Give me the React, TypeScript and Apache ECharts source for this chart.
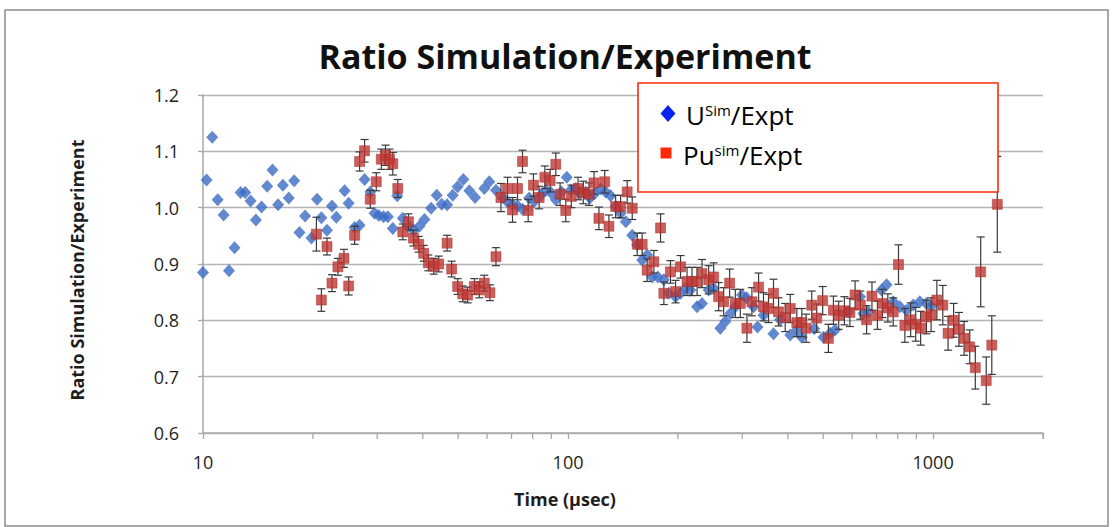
import React, { useEffect, useRef } from "react";
import * as echarts from "echarts";

const FONT = "'Open Sans', sans-serif";

// U simulation / experiment ratio (time in µs, ratio)
const uTime = [
  10.0, 10.23, 10.6, 10.97, 11.39, 11.78, 12.2, 12.68, 13.05, 13.5,
  13.96, 14.47, 14.99, 15.5, 16.06, 16.55, 17.18, 17.77, 18.38, 19.04,
  19.82, 20.53, 21.1, 21.86, 22.56, 23.19, 24.43, 25.06, 26.02, 26.85,
  27.71, 28.72, 29.51, 30.32, 31.23, 32.09, 33.11, 34.04, 35.26, 36.54,
  37.78, 39.16, 40.42, 42.16, 43.67, 45.07, 46.63, 48.3, 49.84, 51.66,
  53.65, 55.61, 58.95, 60.84, 63.46, 66.15, 68.27, 70.45, 72.71, 75.03,
  78.26, 80.76, 84.24, 86.93, 89.7, 92.56, 95.87, 99.2, 101.7, 105,
  107.9, 111.8, 114.8, 118.3, 122.8, 126.8, 130.8, 135, 139.3, 144,
  149.9, 154.7, 159.6, 164.7, 170, 176.2, 183, 188.8, 197, 203.3,
  209.8, 216.4, 225.6, 232.8, 242.8, 250.5, 261.3, 269.7, 278.3, 287.2,
  299.5, 308.3, 322.3, 330.4, 343.1, 365.4, 381.1, 406.1, 423.3, 436.8,
  472.5, 500.6, 522.2, 538.8, 586.1, 630.6, 643.8, 664.4, 722.4, 745.5,
  777.6, 810.9, 845.3, 881.8, 919.7, 958.8, 989.5,
];
const uRatio = [
  0.885, 1.049, 1.125, 1.014, 0.987, 0.888, 0.929, 1.027, 1.027, 1.012,
  0.978, 1.001, 1.038, 1.067, 1.005, 1.04, 1.017, 1.048, 0.956, 0.985,
  0.946, 1.015, 0.982, 0.96, 1.003, 0.983, 1.03, 1.008, 0.965, 0.969,
  1.05, 1.028, 0.99, 0.986, 0.984, 0.984, 0.963, 1.021, 0.981, 0.967,
  0.96, 0.967, 0.979, 0.999, 1.022, 1.006, 1.005, 1.022, 1.037, 1.05,
  1.03, 1.018, 1.034, 1.046, 1.031, 1.018, 1.01, 1.005, 1.003, 0.997,
  1.017, 1.011, 1.022, 1.031, 1.027, 1.014, 1.028, 1.054, 1.031, 1.034,
  1.025, 1.028, 1.017, 1.025, 1.033, 1.028, 1.021, 1.002, 0.99, 0.975,
  0.951, 0.934, 0.907, 0.916, 0.877, 0.877, 0.872, 0.848, 0.842, 0.848,
  0.857, 0.854, 0.824, 0.83, 0.854, 0.857, 0.786, 0.798, 0.812, 0.824,
  0.845, 0.84, 0.824, 0.788, 0.809, 0.776, 0.801, 0.774, 0.783, 0.77,
  0.785, 0.77, 0.777, 0.783, 0.815, 0.842, 0.812, 0.815, 0.854, 0.863,
  0.833, 0.824, 0.818, 0.827, 0.833, 0.83, 0.825,
];

// Pu simulation / experiment ratio with error bars
const puTime = [
  20.45, 21.1, 21.86, 22.56, 23.42, 24.33, 25.06, 26.02, 26.85, 27.71,
  28.72, 29.83, 30.79, 31.62, 32.43, 33.11, 34.17, 35.26, 36.54, 37.71,
  38.99, 40.23, 41.44, 42.85, 44.22, 46.63, 47.98, 49.84, 51.44, 53.08,
  55.37, 57.13, 58.95, 61.1, 63.46, 65.48, 68.27, 70.45, 72.71, 75.03,
  77.76, 80.38, 83.33, 86.38, 89.3, 92.56, 95.08, 98.56, 102.1, 106.5,
  110.1, 114.1, 117.8, 121.5, 126, 129.4, 135, 139.3, 145.2, 149.9,
  154.7, 159.6, 164.7, 171.8, 179.2, 183, 190.8, 197, 203.3, 211.8,
  218.6, 225.6, 232.8, 242.8, 250.5, 258.5, 266.8, 277.1, 287.2, 296.4,
  309, 318.9, 332.6, 343.1, 354.1, 365.4, 377.2, 393.4, 406.1, 423.3,
  436.8, 448.9, 465.1, 479.9, 498.3, 516.6, 533.2, 551.3, 571.4, 591.6,
  611.3, 631.9, 657.3, 680, 703.9, 726.4, 751.6, 777.6, 803.9, 837,
  868, 896, 924.5, 958.8, 987.4, 1024, 1063, 1099, 1138, 1177,
  1216, 1260, 1305, 1350, 1398, 1448, 1499,
];
const puRatio = [
  0.953, 0.836, 0.931, 0.866, 0.895, 0.91, 0.861, 0.951, 1.082, 1.101,
  1.015, 1.046, 1.086, 1.093, 1.086, 1.078, 1.034, 0.957, 0.975, 0.946,
  0.935, 0.919, 0.902, 0.896, 0.9, 0.937, 0.891, 0.86, 0.847, 0.845,
  0.86, 0.854, 0.866, 0.849, 0.913, 1.018, 1.034, 0.996, 1.034, 1.082,
  0.995, 1.04, 1.018, 1.054, 1.048, 1.077, 1.024, 0.995, 1.02, 1.034,
  1.027, 1.024, 1.044, 0.981, 1.046, 0.967, 1.002, 1.002, 1.028, 0.999,
  0.935, 0.935, 0.889, 0.904, 0.964, 0.848, 0.886, 0.851, 0.895, 0.869,
  0.869, 0.869, 0.883, 0.872, 0.877, 0.842, 0.833, 0.866, 0.83, 0.83,
  0.786, 0.833, 0.859, 0.824, 0.821, 0.848, 0.815, 0.805, 0.821, 0.796,
  0.796, 0.786, 0.827, 0.804, 0.835, 0.768, 0.818, 0.809, 0.817, 0.814,
  0.845, 0.827, 0.801, 0.843, 0.809, 0.83, 0.822, 0.815, 0.899, 0.791,
  0.801, 0.793, 0.786, 0.806, 0.81, 0.836, 0.827, 0.777, 0.8, 0.784,
  0.768, 0.753, 0.716, 0.886, 0.693, 0.756, 1.006,
];
const puErr = [
  0.03, 0.02, 0.015, 0.015, 0.015, 0.016, 0.016, 0.016, 0.017, 0.02,
  0.016, 0.016, 0.018, 0.018, 0.018, 0.02, 0.016, 0.014, 0.014, 0.014,
  0.014, 0.014, 0.014, 0.014, 0.014, 0.014, 0.014, 0.014, 0.014, 0.014,
  0.014, 0.014, 0.014, 0.014, 0.016, 0.025, 0.02, 0.022, 0.02, 0.02,
  0.02, 0.02, 0.02, 0.02, 0.02, 0.02, 0.02, 0.02, 0.02, 0.02,
  0.02, 0.02, 0.02, 0.02, 0.02, 0.02, 0.02, 0.02, 0.02, 0.02,
  0.02, 0.02, 0.02, 0.02, 0.025, 0.02, 0.02, 0.02, 0.02, 0.025,
  0.025, 0.025, 0.025, 0.025, 0.025, 0.025, 0.025, 0.025, 0.025, 0.025,
  0.025, 0.025, 0.025, 0.025, 0.025, 0.025, 0.025, 0.025, 0.025, 0.025,
  0.025, 0.025, 0.025, 0.025, 0.025, 0.025, 0.025, 0.025, 0.025, 0.025,
  0.025, 0.025, 0.025, 0.025, 0.025, 0.025, 0.025, 0.025, 0.035, 0.03,
  0.03, 0.03, 0.03, 0.03, 0.03, 0.035, 0.035, 0.03, 0.03, 0.03,
  0.03, 0.03, 0.038, 0.062, 0.042, 0.052, 0.085,
];

const majorTimeLabels = [10, 100, 1000];
const minorTickTimes = [20, 30, 40, 50, 60, 70, 80, 90, 200, 300, 400, 500, 600, 700, 800, 900, 2000];

const AXIS_GRAY = "#a8a8a8";
const TEXT = "#1e1e1e";

export default function App() {
  const ref = useRef<HTMLDivElement>(null);

  useEffect(() => {
    if (!ref.current) return;
    const chart = echarts.init(ref.current, null, { renderer: "svg" });

    const uData = uTime.map((t, i) => [t, uRatio[i]]);
    const puData = puTime.map((t, i) => [t, puRatio[i]]);
    const errData = puTime.map((t, i) => [t, puRatio[i] - puErr[i], puRatio[i] + puErr[i]]);
    const minorData = minorTickTimes.map((t) => [t, 0.6]);

    const option: any = {
      animation: false,
      backgroundColor: "#fff",
      textStyle: { fontFamily: FONT },
      grid: { left: 203, right: 69, top: 95, bottom: 94, containLabel: false, outerBoundsMode: "none" },
      xAxis: {
        type: "log",
        logBase: 10,
        min: 10,
        max: 2000,
        axisLine: { show: true, onZero: false, lineStyle: { color: AXIS_GRAY, width: 1.5 } },
        axisTick: { show: true, length: 6, lineStyle: { color: AXIS_GRAY, width: 1.3 } },
        axisLabel: {
          fontSize: 18,
          color: TEXT,
          fontFamily: FONT,
          margin: 20,
          formatter: (v: number) => {
            const m = majorTimeLabels.find((x) => Math.abs(x - v) / x < 1e-6);
            return m ? String(m) : "";
          },
        },
        splitLine: { show: false },
        name: "Time (µsec)",
        nameLocation: "middle",
        nameGap: 57,
        nameTextStyle: {
          fontSize: 18,
          fontWeight: "bold",
          color: TEXT,
          fontFamily: FONT,
          padding: [0, 116, 0, 0],
        },
      },
      yAxis: {
        type: "value",
        min: 0.6,
        max: 1.2,
        interval: 0.1,
        axisLine: { show: true, lineStyle: { color: AXIS_GRAY, width: 1.5 } },
        axisTick: { show: true, length: 5, lineStyle: { color: AXIS_GRAY, width: 1.3 } },
        axisLabel: {
          fontSize: 18,
          color: TEXT,
          fontFamily: FONT,
          margin: 24,
          formatter: (v: number) => v.toFixed(1),
        },
        splitLine: { show: true, lineStyle: { color: "#b4b4b4", width: 1.3 } },
        name: "Ratio Simulation/Experiment",
        nameLocation: "middle",
        nameGap: 117,
        nameTextStyle: {
          fontSize: 18,
          fontWeight: "bold",
          color: TEXT,
          fontFamily: FONT,
          padding: [0, 12, 0, 0],
        },
      },
      series: [
        {
          name: "U",
          type: "scatter",
          data: uData,
          symbol: "diamond",
          symbolSize: [12, 13],
          itemStyle: { color: "#3b6bc4" },
          z: 2,
        },
        {
          name: "minorTicks",
          type: "custom",
          data: minorData,
          clip: false,
          silent: true,
          z: 1,
          renderItem: (params: any, api: any) => {
            const p = api.coord([api.value(0), api.value(1)]);
            return {
              type: "line",
              shape: { x1: p[0], y1: p[1], x2: p[0], y2: p[1] + 6 },
              style: { stroke: AXIS_GRAY, lineWidth: 1.3 },
            };
          },
        },
        {
          name: "errors",
          type: "custom",
          data: errData,
          clip: false,
          silent: true,
          z: 3,
          renderItem: (params: any, api: any) => {
            const lo = api.coord([api.value(0), api.value(1)]);
            const hi = api.coord([api.value(0), api.value(2)]);
            const w = 4;
            const st = { stroke: "#3a3a3a", lineWidth: 1.2 };
            return {
              type: "group",
              children: [
                { type: "line", shape: { x1: lo[0], y1: lo[1], x2: hi[0], y2: hi[1] }, style: st },
                { type: "line", shape: { x1: lo[0] - w, y1: lo[1], x2: lo[0] + w, y2: lo[1] }, style: st },
                { type: "line", shape: { x1: hi[0] - w, y1: hi[1], x2: hi[0] + w, y2: hi[1] }, style: st },
              ],
            };
          },
        },
        {
          name: "Pu",
          type: "scatter",
          data: puData,
          symbol: "rect",
          symbolSize: 10,
          itemStyle: { color: "#bf3733", borderColor: "#a02c28", borderWidth: 0.6 },
          z: 4,
        },
      ],
      graphic: [
        {
          type: "rect",
          z: 50,
          silent: true,
          shape: { x: 5, y: 10, width: 1103, height: 516 },
          style: { fill: "none", stroke: "#8c8c8c", lineWidth: 1.5 },
        },
        {
          type: "text",
          z: 50,
          x: 565,
          y: 56,
          style: {
            text: "Ratio Simulation/Experiment",
            align: "center",
            verticalAlign: "middle",
            fontSize: 34,
            fontWeight: "bold",
            fontFamily: FONT,
            fill: "#111",
          },
        },
        {
          type: "rect",
          z: 60,
          shape: { x: 638, y: 83, width: 360, height: 109 },
          style: { fill: "#fff", stroke: "#ff2a0a", lineWidth: 1.6 },
        },
        {
          type: "polygon",
          z: 61,
          shape: { points: [[668, 105], [675.5, 113.5], [668, 122], [660.5, 113.5]] },
          style: { fill: "#0a22f0" },
        },
        {
          type: "rect",
          z: 61,
          shape: { x: 660.5, y: 147.5, width: 11, height: 11 },
          style: { fill: "#ff2a0a" },
        },
        {
          type: "text",
          z: 61,
          x: 686,
          y: 115,
          style: {
            text: "{m|U}{s|Sim}{m|/Expt}",
            verticalAlign: "middle",
            rich: {
              m: { fontSize: 26, fontFamily: FONT, fill: "#000", verticalAlign: "bottom" },
              s: { fontSize: 15, fontFamily: FONT, fill: "#000", verticalAlign: "top" },
            },
          },
        },
        {
          type: "text",
          z: 61,
          x: 683,
          y: 155,
          style: {
            text: "{m|Pu}{s|sim}{m|/Expt}",
            verticalAlign: "middle",
            rich: {
              m: { fontSize: 26, fontFamily: FONT, fill: "#000", verticalAlign: "bottom" },
              s: { fontSize: 15, fontFamily: FONT, fill: "#000", verticalAlign: "top" },
            },
          },
        },
      ],
    };

    chart.setOption(option);
    return () => chart.dispose();
  }, []);

  return (
    <div
      ref={ref}
      style={{ position: "fixed", left: 0, top: 0, width: 1112, height: 527, background: "#fff" }}
    />
  );
}
